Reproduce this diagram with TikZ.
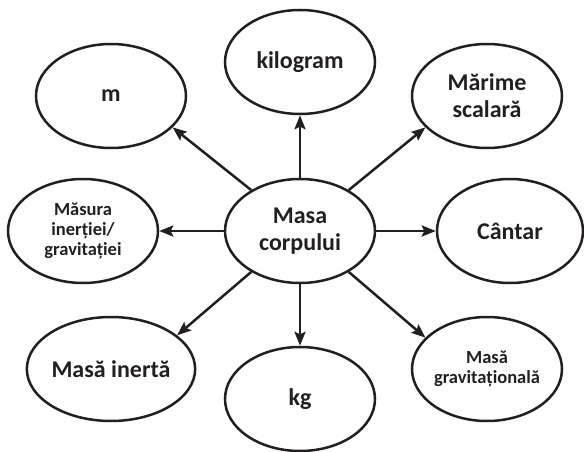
\documentclass[tikz,border=0pt]{standalone}
\usepackage{fontspec}
\setmainfont{Carlito}
\usetikzlibrary{arrows.meta,shapes.geometric}
\definecolor{ink}{HTML}{231F20}
\begin{document}
\begin{tikzpicture}[x=1pt,y=-1pt,
  bubble/.style={draw=ink, line width=2.5pt, ellipse, inner sep=0pt,
    minimum width=150pt, minimum height=104pt, align=center,
    text=ink, font=\fontsize{24}{27}\selectfont\bfseries},
  smalltext/.style={font=\fontsize{18.5}{20}\selectfont\bfseries},
  link/.style={draw=ink, line width=2.5pt,
    -{Stealth[length=14pt,width=11pt,inset=2.5pt]}}]
\useasboundingbox (0,0) rectangle (584,452);

% central concept
\node[bubble] (c) at (300,231) {Masa\\corpului};

% surrounding concepts
\node[bubble] (kilo)  at (300,62)  {kilogram};
\node[bubble] (m)     at (111,96)  {m};
\node[bubble] (mar)   at (487,96)  {Mărime\\scalară};
\node[bubble, minimum width=146pt] (cant) at (510,231) {Cântar};
\node[bubble, smalltext] (mas) at (83,231) {Măsura\\inerției/\\gravitației};
\node[bubble] (iner)  at (111,369) {Masă inertă};
\node[bubble] (kg)    at (300,399) {kg};
\node[bubble, smalltext] (grav) at (487,369) {Masă\\gravitațională};

% connectors
\draw[link] (c.north) -- (kilo.south);
\draw[link] (c.140) -- (m.333);
\draw[link] (c.40) -- (mar.207);
\draw[link] (c.east) -- (cant.west);
\draw[link] (c.west) -- (mas.east);
\draw[link] (c.220) -- (iner.27);
\draw[link] (c.south) -- (kg.north);
\draw[link] (c.320) -- (grav.153);
\end{tikzpicture}
\end{document}
